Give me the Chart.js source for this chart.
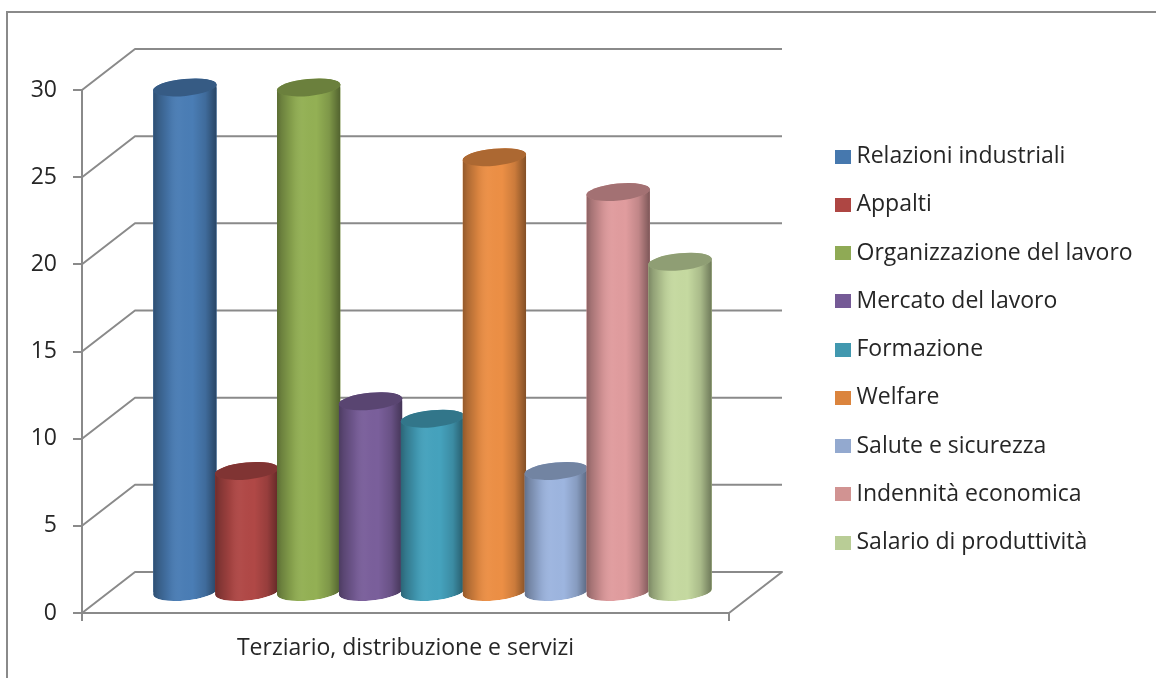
<!DOCTYPE html>
<html><head><meta charset="utf-8">
<style>html,body{margin:0;padding:0;background:#fff}canvas{display:block;filter:blur(.35px)}</style>
<script src="https://cdn.jsdelivr.net/npm/chart.js@4"></script>
</head><body><canvas id="c" width="1156" height="678"></canvas>
<script>
const categories = ["Terziario, distribuzione e servizi"];
const seriesNames = ["Relazioni industriali","Appalti","Organizzazione del lavoro","Mercato del lavoro","Formazione","Welfare","Salute e sicurezza","Indennità economica","Salario di produttività"];
const seriesValues = [29,7,29,11,10,25,7,23,19];
const seriesColors = ["#4a7db5","#b04846","#93b054","#7a5f9b","#45a2bd","#ec8f45","#9db5df","#e09c9e","#c5d9a0"];
const swatchColors = ["#4678ae","#ae4643","#8faa55","#755a96","#4198af","#db843d","#93a9cf","#d19392","#b9cd96"];
const yTicks = {min:0,max:30,step:5};
const LINE = "#8a8a8a", TEXT = "#262626", FONT = "'Open Sans'";
const DEPTH_X = 53, DEPTH_Y = 41, BAR_DX = 27, BAR_DY = -20, RY = 8.5, TILT = -5.5*Math.PI/180;

function swatch(color){
  const s=document.createElement('canvas'); s.width=16; s.height=14;
  const g=s.getContext('2d'); g.fillStyle=color; g.fillRect(0,0,16,14); return s;
}
function cyl(ctx,el){
  const rx=el.width/2;
  ctx.beginPath();
  ctx.ellipse(el.x,el.y,rx,RY,TILT,Math.PI,2*Math.PI,false);
  ctx.ellipse(el.x,el.base,rx,RY,TILT,0,Math.PI,false);
  ctx.closePath();
}
const walls = {
  id:'walls',
  beforeLayout(chart){
    const l=chart.legend;
    if(!l._fixedFit){
      const fit=l.fit;
      l.fit=function(){ fit.call(this); this.width=427; };
      l._fixedFit=true;
    }
  },
  afterLayout(chart){ const l=chart.legend; l.left=815.75; l.right=1156; l.top=119.75; l.bottom=660; },
  beforeDraw(chart){
    const c=chart.ctx; c.save();
    c.strokeStyle=LINE; c.lineWidth=2;
    c.beginPath(); c.moveTo(7,678); c.lineTo(7,12); c.lineTo(1156,12); c.stroke();
    c.restore();
  },
  beforeDatasetsDraw(chart){
    const c=chart.ctx, y=chart.scales.y, a=chart.chartArea;
    c.save(); c.strokeStyle=LINE; c.lineWidth=2; c.lineJoin='round';
    y.ticks.forEach(t=>{
      const p=y.getPixelForValue(t.value);
      c.beginPath(); c.moveTo(a.left,p); c.lineTo(a.left+DEPTH_X,p-DEPTH_Y); c.lineTo(a.right+DEPTH_X,p-DEPTH_Y);
      if(t.value===yTicks.min) c.lineTo(a.right,p);
      c.stroke();
    });
    c.restore();
    // later series sit in front of earlier ones, as in the reference
    chart.getSortedVisibleDatasetMetas().forEach(m=>chart._drawDataset(m));
    return false;
  },
  beforeDatasetDraw(chart,args){
    const c=chart.ctx, el=chart.getDatasetMeta(args.index).data[0];
    c.save(); c.translate(BAR_DX,BAR_DY);
    c.save(); cyl(c,el); c.clip();
  },
  afterDatasetDraw(chart,args){
    const c=chart.ctx, el=chart.getDatasetMeta(args.index).data[0];
    const col=chart.data.datasets[args.index].backgroundColor, rx=el.width/2;
    c.fillStyle=col; cyl(c,el); c.fill();
    const g=c.createLinearGradient(el.x-rx,0,el.x+rx,0);
    g.addColorStop(0,'rgba(0,0,0,.38)');
    g.addColorStop(.08,'rgba(0,0,0,.26)');
    g.addColorStop(.25,'rgba(0,0,0,.08)');
    g.addColorStop(.42,'rgba(255,255,255,.02)');
    g.addColorStop(.62,'rgba(0,0,0,0)');
    g.addColorStop(.82,'rgba(0,0,0,.14)');
    g.addColorStop(1,'rgba(0,0,0,.45)');
    c.fillStyle=g; cyl(c,el); c.fill();
    c.restore();
    c.beginPath(); c.ellipse(el.x,el.y,rx,RY,TILT,0,2*Math.PI);
    c.fillStyle=col; c.fill();
    c.fillStyle='rgba(0,0,0,.27)'; c.fill();
    c.restore();
  }
};
new Chart(document.getElementById('c'),{
  type:'bar',
  data:{labels:categories,datasets:seriesNames.map((n,i)=>({
    label:n,data:[seriesValues[i]],backgroundColor:seriesColors[i],
    pointStyle:swatch(swatchColors[i]),clip:false,
    barPercentage:1.03,categoryPercentage:0.861,borderWidth:0
  }))},
  options:{
    responsive:false,animation:false,events:[],
    layout:{padding:{top:90,left:0,right:0,bottom:0}},
    plugins:{
      title:{display:false},tooltip:{enabled:false},
      legend:{position:'right',align:'start',labels:{
        usePointStyle:true,boxWidth:4,boxHeight:14,padding:25.25,color:TEXT,font:{family:FONT,size:23}
      }}
    },
    scales:{
      x:{afterFit(s){s.height=65;},
        grid:{drawOnChartArea:false,color:LINE,lineWidth:2,tickLength:8},
        border:{color:LINE,width:2},
        ticks:{color:TEXT,padding:14,font:{family:FONT,size:23},maxRotation:0}},
      y:{min:yTicks.min,max:yTicks.max,afterFit(s){s.width=82;},
        grid:{drawOnChartArea:false,color:LINE,lineWidth:2,tickLength:9},
        border:{color:LINE,width:2},
        ticks:{stepSize:yTicks.step,color:TEXT,padding:16,font:{family:FONT,size:23}}}
    }
  },
  plugins:[walls]
});
</script></body></html>
